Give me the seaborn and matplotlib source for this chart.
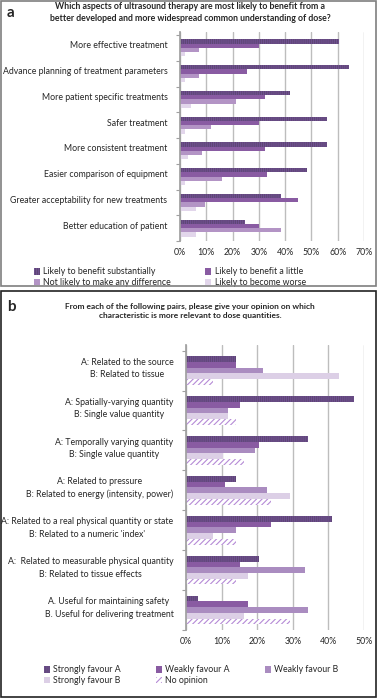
import numpy as np
import pandas as pd
import matplotlib
matplotlib.use('Agg')
import matplotlib.pyplot as plt
import matplotlib.transforms as mtransforms
from matplotlib.patches import Rectangle
import seaborn as sns

sns.set_theme(style='white')
plt.rcParams['font.family'] = ['Lato', 'DejaVu Sans']
plt.rcParams['hatch.linewidth'] = 0.8

# panel a data (percent)
aspects = ['More effective treatment', 'Advance planning of treatment parameters',
           'More patient specific treatments', 'Safer treatment',
           'More consistent treatment', 'Easier comparison of equipment',
           'Greater acceptability for new treatments', 'Better education of patient']
benefit_levels = ['Likely to benefit substantially', 'Likely to benefit a little',
                  'Not likely to make any difference', 'Likely to become worse']
substantially = [60.3, 64.4, 41.9, 55.8, 56.0, 48.4, 38.6, 24.6]
a_little = [29.9, 25.4, 32.3, 30.0, 32.3, 33.0, 45.0, 30.0]
no_difference = [7.3, 7.3, 21.4, 11.7, 8.5, 16.0, 9.5, 38.6]
become_worse = [1.9, 1.9, 4.2, 1.9, 2.9, 1.9, 6.2, 6.2]

# panel b data (percent)
pairs = ['A: Related to the source\nB: Related to tissue',
         'A: Spatially-varying quantity\nB: Single value quantity',
         'A: Temporally varying quantity\nB: Single value quantity',
         'A: Related to pressure\nB: Related to energy (intensity, power)',
         "A: Related to a real physical quantity or state\nB: Related to a numeric 'index'",
         'A:  Related to measurable physical quantity\nB: Related to tissue effects',
         'A. Useful for maintaining safety\nB. Useful for delivering treatment']
opinions = ['Strongly favour A', 'Weakly favour A', 'Weakly favour B',
            'Strongly favour B', 'No opinion']
strong_a = [14.1, 47.3, 34.4, 14.1, 41.0, 20.6, 3.4]
weak_a = [14.1, 15.1, 20.6, 10.9, 23.8, 15.1, 17.3]
weak_b = [21.6, 11.9, 19.5, 22.7, 14.1, 33.3, 34.4]
strong_b = [43.0, 11.9, 10.3, 29.1, 7.6, 17.3, 16.2]
no_opinion = [7.6, 14.1, 16.2, 23.8, 14.1, 14.1, 29.1]

df_a = pd.DataFrame({
    'aspect': np.tile(aspects, 4),
    'level': np.repeat(benefit_levels, len(aspects)),
    'pct': substantially + a_little + no_difference + become_worse,
})
df_b = pd.DataFrame({
    'pair': np.tile(pairs, 5),
    'opinion': np.repeat(opinions, len(pairs)),
    'pct': strong_a + weak_a + weak_b + strong_b + no_opinion,
})

colors_a = ['#5e3e7c', '#8c4fae', '#b58ccd', '#e2d3ee']
colors_b = ['#5e3e7c', '#8c4fae', '#ab83c9', '#ddcbea', '#ffffff']

fig = plt.figure(figsize=(3.78, 6.98), dpi=100)
W, H = 378, 698

# panel frames
fig.patches.append(Rectangle((1 / W, (H - 286) / H), 375 / W, 285 / H, transform=fig.transFigure,
                             fill=False, edgecolor='#7f7f7f', linewidth=1.2))
fig.patches.append(Rectangle((1 / W, 1 / H), 375 / W, (H - 292) / H, transform=fig.transFigure,
                             fill=False, edgecolor='#222222', linewidth=1.2))

ax_a = fig.add_axes([180 / W, (H - 241) / H, 184 / W, 209 / H])
ax_b = fig.add_axes([186 / W, (H - 630) / H, 178 / W, 285 / H])

sns.barplot(data=df_a, y='aspect', x='pct', hue='level', palette=colors_a, orient='h',
            width=0.66, ax=ax_a, linewidth=0)
sns.barplot(data=df_b, y='pair', x='pct', hue='opinion', palette=colors_b, orient='h',
            width=0.72, ax=ax_b, linewidth=0)


def texture(patch, kind):
    # dark bars get a fine texture, "no opinion" gets light diagonal lines
    if kind == 'dark':
        patch.set_hatch('||||||||')
        patch.set_edgecolor('#6f5090')
    else:
        patch.set_facecolor('white')
        patch.set_hatch('//////')
        patch.set_edgecolor('#b58ad6')
    patch.set_linewidth(0)


for bar in ax_a.containers[0]:
    texture(bar, 'dark')
for bar in ax_b.containers[0]:
    texture(bar, 'dark')
for bar in ax_b.containers[4]:
    texture(bar, 'none')


def style_axis(ax, n, xmax, shift, lab_dy):
    ax.set_xlim(0, xmax)
    ax.set_ylim(n - 0.5 - shift, -0.5 - shift)
    ax.set_xticks(np.arange(0, xmax + 1, 10))
    ax.set_xticklabels([f'{v}%' for v in range(0, xmax + 1, 10)], fontsize=6.3)
    ax.set_yticks(np.arange(n + 1) - 0.5, minor=True)
    ax.tick_params(axis='y', which='major', length=0, pad=9, labelsize=6.3)
    ax.tick_params(axis='y', which='minor', length=3, color='#a0a0a0', width=0.8, left=True)
    ax.tick_params(axis='x', length=0, pad=5)
    ax.grid(axis='x', color='#bdbdbd', linewidth=1)
    ax.grid(axis='y', visible=False)
    ax.set_axisbelow(True)
    for s in ['top', 'right', 'bottom']:
        ax.spines[s].set_visible(False)
    ax.spines['left'].set_color('#a0a0a0')
    ax.set_xlabel('')
    ax.set_ylabel('')
    off = mtransforms.ScaledTranslation(0, lab_dy / 72, ax.figure.dpi_scale_trans)
    for lbl in ax.get_yticklabels():
        lbl.set_transform(lbl.get_transform() + off)
        lbl.set_multialignment('center')
        lbl.set_linespacing(1.5)


style_axis(ax_a, len(aspects), 70, 0.12, 2.2)
style_axis(ax_b, len(pairs), 50, 0.14, 3.5)

# legends
h, l = ax_a.get_legend_handles_labels()
order = [0, 2, 1, 3]
leg_a = ax_a.legend([h[i] for i in order], [l[i] for i in order], ncol=2, frameon=False,
                    loc='upper left', bbox_to_anchor=(30 / W, (H - 264) / H),
                    bbox_transform=fig.transFigure,
                    fontsize=6.3, handlelength=0.7, handleheight=0.7, handletextpad=0.4,
                    columnspacing=3.9, labelspacing=0.15, borderaxespad=0)
texture(leg_a.legend_handles[0], 'dark')

h, l = ax_b.get_legend_handles_labels()
order = [0, 3, 1, 4, 2]
leg_b = ax_b.legend([h[i] for i in order], [l[i] for i in order], ncol=3, frameon=False,
                    loc='upper left', bbox_to_anchor=(40 / W, (H - 662) / H),
                    bbox_transform=fig.transFigure,
                    fontsize=6.3, handlelength=0.7, handleheight=0.7, handletextpad=0.4,
                    columnspacing=4.0, labelspacing=0.15, borderaxespad=0)
texture(leg_b.legend_handles[0], 'dark')
texture(leg_b.legend_handles[3], 'none')

# titles and panel letters
fig.text(190 / W, (H - 12.5) / H,
         'Which aspects of ultrasound therapy are most likely to benefit from a\n'
         'better developed and more widespread common understanding of dose?',
         ha='center', va='center', fontsize=6.3, fontweight='bold', linespacing=1.35)
fig.text(190 / W, (H - 311) / H,
         'From each of the following pairs, please give your opinion on which\n'
         'characteristic is more relevant to dose quantities.',
         ha='center', va='center', fontsize=6, fontweight='bold', linespacing=1.3)
fig.text(7 / W, (H - 13) / H, 'a', ha='left', va='center', fontsize=11, fontweight='bold')
fig.text(7 / W, (H - 307) / H, 'b', ha='left', va='center', fontsize=11, fontweight='bold')

fig.savefig('out.png', dpi=100)
